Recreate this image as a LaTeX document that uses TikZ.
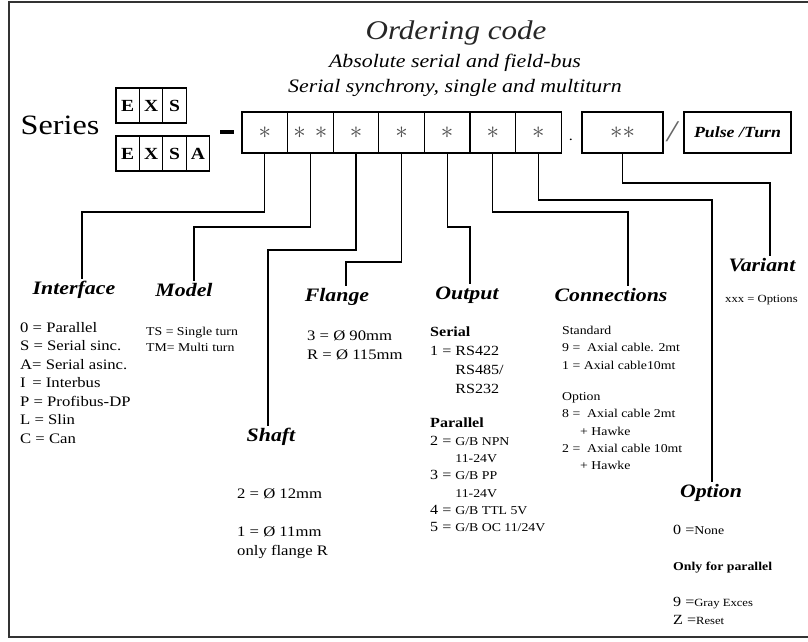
\documentclass[tikz,border=0pt]{standalone}
\usepackage{fontspec}
\setmainfont{Liberation Serif}[FakeStretch=1.15]
\usepackage{tikz}
\usetikzlibrary{positioning, calc}

\newcommand{\fs}[2]{\fontsize{#1}{#2}\selectfont}

\tikzset{
  cell/.style={draw, line width=1.2pt, minimum width=45.6pt, minimum height=41pt, inner sep=0pt, outer sep=0pt},
  letter/.style={draw, line width=1.2pt, minimum width=23.4pt, minimum height=35pt, inner sep=0pt, outer sep=0pt, font=\bfseries\fs{17}{17}},
  head/.style={font=\bfseries\itshape\fs{19}{19}, inner sep=2pt},
  link/.style={line width=1.3pt},
  txt/.style={align=left, anchor=north west, inner sep=0pt},
  star/.style={text=black!70, font=\fs{33}{33}}
}

\begin{document}
\begin{tikzpicture}[x=1pt, y=-1pt]
  \useasboundingbox (0,0) rectangle (808,641);
  \draw[line width=1.3pt, black!80] (9,2) rectangle (830,637);

  % --- titles ---
  \node[font=\itshape\fs{27}{27}, text=black!85] (title) at (456,33) {Ordering code};
  \node[font=\itshape\fs{19}{19}] (sub1) at (455,63) {Absolute serial and field-bus};
  \node[font=\itshape\fs{19}{19}] (sub2) at (455,88) {Serial synchrony, single and multiturn};

  % --- series ---
  \node[font=\fs{28}{28}] (series) at (60,125) {Series};
  \node[letter] (e1) at (127.7,105.5) {E};
  \node[letter] (e2) at (151.1,105.5) {X};
  \node[letter] (e3) at (174.5,105.5) {S};
  \node[letter] (a1) at (127.7,153.5) {E};
  \node[letter] (a2) at (151.1,153.5) {X};
  \node[letter] (a3) at (174.5,153.5) {S};
  \node[letter] (a4) at (197.9,153.5) {A};
  \node[fill, minimum width=14pt, minimum height=4.5pt, inner sep=0pt] (dash) at (227,132) {};

  % --- code cells ---
  \foreach \i/\t in {1/{$\ast$}, 2/{$\ast$\hspace{9pt}$\ast$}, 3/{$\ast$}, 4/{$\ast$}, 5/{$\ast$}, 6/{$\ast$}, 7/{$\ast$}}
    \node[cell, star] (c\i) at ({242+45.6*(\i-0.5)},132.5) {\t};
  \foreach \i in {1,...,7} \draw[line width=1.2pt] (c\i.north west) rectangle (c\i.south east);
  \node[font=\fs{14}{14}] (dot) at (571,140) {.};
  \node[cell, minimum width=81pt, star] (cv) at (622.5,132.5) {$\ast$$\ast$};
  \draw[line width=1.2pt] (cv.north west) rectangle (cv.south east);
  \node[font=\itshape\fs{30}{30}, text=black!60] (slash) at (672,132) {/};
  \node[cell, minimum width=107pt, font=\bfseries\itshape\fs{15.5}{15.5}] (pulse) at (737.5,132.5) {Pulse /Turn};

  % --- headings ---
  \node[head] (iface) at (74,290)  {Interface};
  \node[head] (model) at (184,290) {Model};
  \node[head] (shaft) at (271,437) {Shaft};
  \node[head] (flange) at (337,297) {Flange};
  \node[head] (output) at (467,295) {Output};
  \node[head] (conn) at (611,295)   {Connections};
  \node[head] (option) at (711,493) {Option};
  \node[head] (variant) at (762,265) {Variant};

  % --- connectors ---
  \draw[link] (c1.south) -- ++(0,59)  -| ([xshift=8pt]iface.north);
  \draw[link] (c2.south) -- ++(0,74)  -| ([xshift=10pt]model.north);
  \draw[link] (c3.south) -- ++(0,97)  -| ([xshift=-3pt]shaft.north);
  \draw[link] (c4.south) -- ++(0,109) -| ([xshift=9pt]flange.north);
  \draw[link] (c5.south) -- ++(0,74)  -| ([xshift=3pt]output.north);
  \draw[link] (c6.south) -- ++(0,59)  -| ([xshift=17pt]conn.north);
  \draw[link] (c7.south) -- ++(0,47)  -| ([xshift=1pt]option.north);
  \draw[link] (cv.south) -- ++(0,30)  -| ([xshift=8pt]variant.north);

  % --- lists ---
  \node[txt, font=\fs{14.5}{18.5}] (ifacetxt) at (20,322) {0 = Parallel\\S = Serial sinc.\\A= Serial asinc.\\I\, = Interbus\\P = Profibus-DP\\L = Slin\\C = Can};
  \node[txt, font=\fs{12}{16}] (modeltxt) at (146,327) {TS = Single turn\\TM= Multi turn};
  \node[txt, font=\fs{14.5}{19}] (flangetxt) at (307,330) {3 = Ø 90mm\\R = Ø 115mm};
  \node[txt, font=\fs{14.5}{19}] (shafttxt) at (237,488) {2 = Ø 12mm\\[19pt]1 = Ø 11mm\\only flange R};
  \node[txt, font=\fs{14}{18.7}] (sertxt) at (430,327) {\textbf{Serial}\\1 = RS422\\\hphantom{1 = }RS485/\\\hphantom{1 = }RS232};
  \node[txt, font=\fs{14}{17.3}] (partxt) at (430,418) {\textbf{Parallel}\\2 = {\fs{12}{17.3}G/B NPN}\\\hphantom{2 = }{\fs{12}{17.3}11-24V}\\3 = {\fs{12}{17.3}G/B PP}\\\hphantom{3 = }{\fs{12}{17.3}11-24V}\\4 = {\fs{12}{17.3}G/B TTL 5V}\\5 = {\fs{12}{17.3}G/B OC 11/24V}};
  \node[txt, font=\fs{12}{17.3}] (conntxt) at (562,326) {Standard\\9 = \ Axial cable. 2mt\\1 = Axial cable10mt\\[14pt]Option\\8 = \ Axial cable 2mt\\\hspace{18pt}+ Hawke\\2 = \ Axial cable 10mt\\\hspace{18pt}+ Hawke};
  \node[txt, font=\fs{11}{14}] (varianttxt) at (725,295) {xxx = Options};
  \node[txt, font=\fs{14}{18}] (optiontxt) at (673,525) {0 ={\fs{12}{18}None}\\[18pt]{\bfseries\fs{12}{18}Only for parallel}\\[18pt]9 ={\fs{11}{18}Gray Exces}\\Z ={\fs{11}{18}Reset}};
\end{tikzpicture}
\end{document}
